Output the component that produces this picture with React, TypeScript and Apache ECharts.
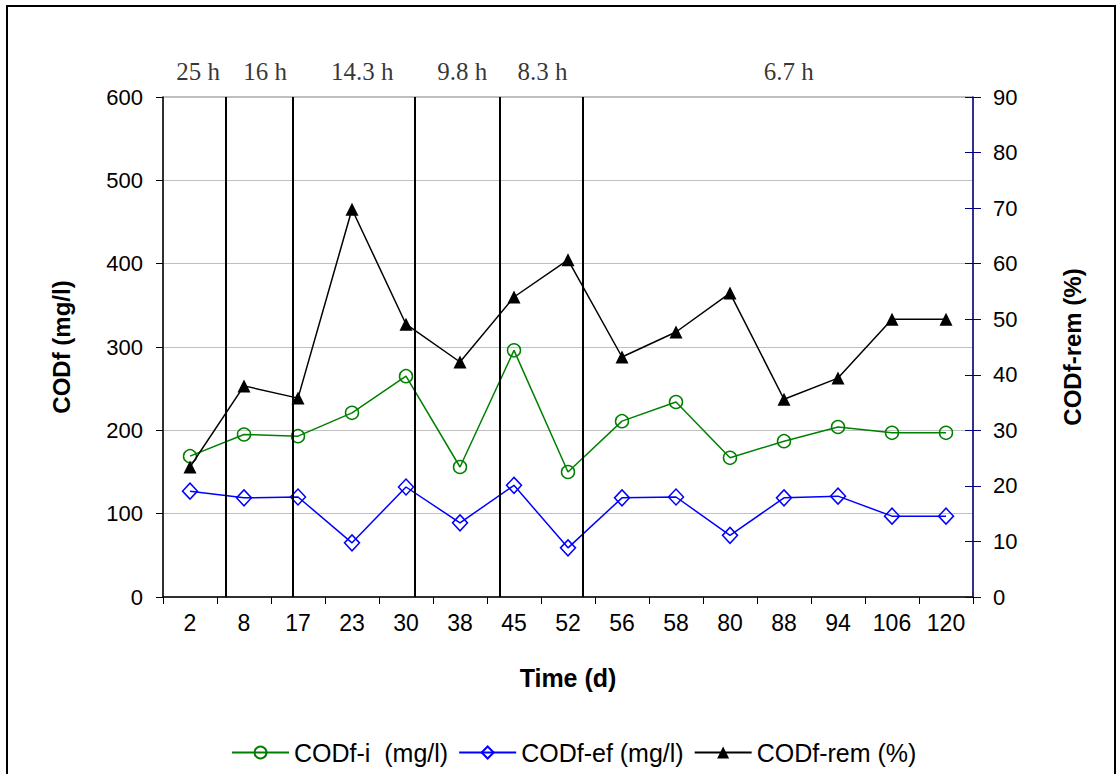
import React, { useEffect, useRef } from "react";
import * as echarts from "echarts";

const categories = ["2", "8", "17", "23", "30", "38", "45", "52", "56", "58", "80", "88", "94", "106", "120"];
const codfIn = [169, 195, 193, 221, 265, 156, 296, 150, 211, 234, 167, 187, 204, 197, 197];
const codfEf = [127, 119, 120, 65, 132, 89, 134, 59, 119, 120, 74, 119, 121, 97, 97];
const codfRem = [23.4, 38, 35.8, 69.8, 49.1, 42.3, 54, 60.7, 43.2, 47.7, 54.7, 35.6, 39.4, 50, 50];
// HRT period boundaries (in category-width units from left edge of plot)
const hrtBoundaries = [1.163, 2.41, 4.67, 6.23, 7.77];
const hrtLabels = ["25 h", "16 h", "14.3 h", "9.8 h", "8.3 h", "6.7 h"];
const hrtLabelPos = [0.65, 1.89, 3.69, 5.54, 7.03, 11.59];
const seriesNames = ["CODf-i  (mg/l)", "CODf-ef (mg/l)", "CODf-rem (%)"];

const SANS = "'Liberation Sans', Arial, sans-serif";
const SERIF = "'Liberation Serif', 'Times New Roman', serif";

export default function App() {
  const ref = useRef<HTMLDivElement>(null);
  useEffect(() => {
    if (!ref.current) return;
    const chart = echarts.init(ref.current, undefined, { renderer: "svg" });
    chart.setOption({
      animation: false,
      backgroundColor: "#fff",
      textStyle: { fontFamily: SANS },
      grid: {
        left: 163,
        right: 143,
        top: 97,
        bottom: 177,
        show: true,
        borderColor: "#808080",
        borderWidth: 1,
        backgroundColor: "transparent",
      },
      graphic: [
        {
          type: "rect",
          shape: { x: 7, y: 6, width: 1108, height: 820 },
          style: { fill: "none", stroke: "#000", lineWidth: 2 },
          silent: true,
        },
      ],
      legend: {
        data: seriesNames,
        top: 735,
        left: 226,
        itemWidth: 57,
        itemHeight: 15,
        itemGap: 10,
        textStyle: { fontSize: 25, color: "#000", fontFamily: SANS },
      },
      xAxis: [
        {
          type: "category",
          data: categories,
          boundaryGap: true,
          axisLine: { show: true, lineStyle: { color: "#000", width: 1.5 } },
          axisTick: { show: true, length: 7, lineStyle: { color: "#000" } },
          axisLabel: { fontSize: 23, color: "#000", margin: 14, fontFamily: SANS },
          splitLine: { show: false },
          name: "Time (d)",
          nameLocation: "middle",
          nameGap: 68,
          nameTextStyle: { fontSize: 25, fontWeight: "bold", color: "#000", fontFamily: SANS },
        },
        { type: "value", min: 0, max: 15, show: false },
      ],
      yAxis: [
        {
          type: "value",
          min: 0,
          max: 600,
          interval: 100,
          position: "left",
          axisLine: { show: true, lineStyle: { color: "#000", width: 1.5 } },
          axisTick: { show: true, length: 7, lineStyle: { color: "#000" } },
          axisLabel: { fontSize: 22, color: "#000", margin: 20, fontFamily: SANS },
          splitLine: { show: true, lineStyle: { color: "#c0c0c0", width: 1 } },
          name: "CODf (mg/l)",
          nameLocation: "middle",
          nameRotate: 90,
          nameGap: 90,
          nameTextStyle: { fontSize: 24, fontWeight: "bold", color: "#000", fontFamily: SANS },
        },
        {
          type: "value",
          min: 0,
          max: 90,
          interval: 10,
          position: "right",
          axisLine: { show: true, lineStyle: { color: "#000080", width: 1.5 } },
          axisTick: { show: true, length: 8, lineStyle: { color: "#000080" } },
          axisLabel: { fontSize: 22, color: "#000", margin: 20, fontFamily: SANS },
          splitLine: { show: false },
          name: "CODf-rem (%)",
          nameLocation: "middle",
          nameRotate: 90,
          nameGap: 87,
          nameTextStyle: { fontSize: 24, fontWeight: "bold", color: "#000", fontFamily: SANS },
        },
        {
          type: "value",
          min: 0,
          max: 90,
          interval: 10,
          position: "right",
          axisLine: { show: false },
          axisTick: { show: true, inside: true, length: 8, lineStyle: { color: "#000080" } },
          axisLabel: { show: false },
          splitLine: { show: false },
        },
      ],
      series: [
        {
          name: seriesNames[0],
          type: "line",
          data: codfIn,
          symbol: "circle",
          symbolSize: 13,
          itemStyle: { color: "rgba(255,255,255,0)", borderColor: "#008000", borderWidth: 1.5 },
          lineStyle: { color: "#008000", width: 1.5 },
          z: 3,
        },
        {
          name: seriesNames[1],
          type: "line",
          data: codfEf,
          symbol: "diamond",
          symbolSize: [15, 16],
          itemStyle: { color: "rgba(255,255,255,0)", borderColor: "#0000ff", borderWidth: 1.5 },
          lineStyle: { color: "#0000ff", width: 1.5 },
          z: 3,
        },
        {
          name: seriesNames[2],
          type: "line",
          yAxisIndex: 1,
          data: codfRem,
          symbol: "triangle",
          symbolSize: 13,
          itemStyle: { color: "#000" },
          lineStyle: { color: "#000", width: 1.5 },
          z: 4,
        },
        {
          name: "hrt-boundaries",
          type: "line",
          xAxisIndex: 1,
          yAxisIndex: 0,
          data: [],
          markLine: {
            silent: true,
            symbol: "none",
            label: { show: false },
            lineStyle: { color: "#000", width: 2, type: "solid" },
            data: hrtBoundaries.map((v) => ({ xAxis: v })),
          },
          z: 2,
        },
        {
          name: "hrt-labels",
          type: "scatter",
          xAxisIndex: 1,
          yAxisIndex: 0,
          symbolSize: 0,
          silent: true,
          data: hrtLabelPos.map((x, i) => ({ value: [x, 600], name: hrtLabels[i] })),
          label: {
            show: true,
            formatter: "{b}",
            position: "top",
            distance: 13,
            fontSize: 25,
            color: "#000",
            fontFamily: SERIF,
          },
        },
      ],
    });
    return () => chart.dispose();
  }, []);
  return <div ref={ref} style={{ position: "absolute", left: 0, top: 0, width: 1116, height: 774 }} />;
}
